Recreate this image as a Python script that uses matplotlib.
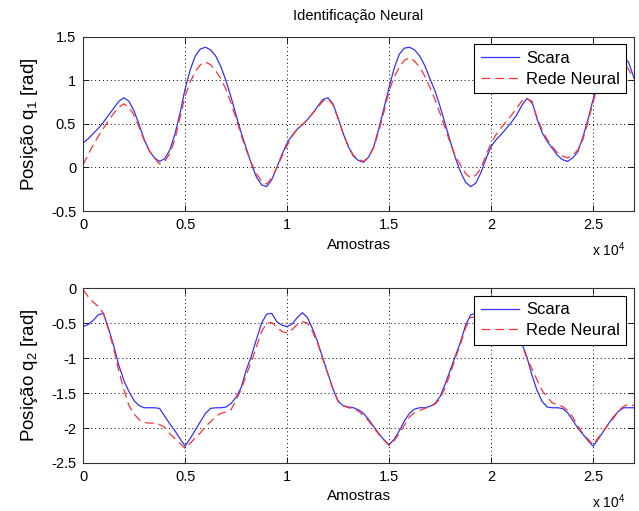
import numpy as np
import matplotlib
matplotlib.use('Agg')
import matplotlib.pyplot as plt
from matplotlib.ticker import FuncFormatter

plt.rcParams['font.family'] = ['Liberation Sans', 'DejaVu Sans']
plt.rcParams['mathtext.fontset'] = 'custom'
plt.rcParams['mathtext.rm'] = 'Liberation Sans'
plt.rcParams['mathtext.it'] = 'Liberation Sans'
plt.rcParams['axes.unicode_minus'] = False

# amostras a cada 250
amostras = np.arange(0, 27001, 250)

# junta 1
scara_q1 = [0.28, 0.33, 0.39, 0.45, 0.52, 0.60, 0.68, 0.76, 0.80, 0.76,
            0.65, 0.49, 0.32, 0.19, 0.11, 0.07, 0.10, 0.20, 0.38, 0.62,
            0.90, 1.12, 1.28, 1.36, 1.38, 1.35, 1.28, 1.16, 1.00, 0.81,
            0.60, 0.40, 0.22, 0.04, -0.11, -0.20, -0.22, -0.14, 0.00, 0.15,
            0.28, 0.37, 0.44, 0.49, 0.55, 0.62, 0.70, 0.78, 0.80, 0.73,
            0.57, 0.39, 0.24, 0.13, 0.08, 0.06, 0.12, 0.24, 0.45, 0.68,
            0.92, 1.14, 1.30, 1.37, 1.38, 1.35, 1.28, 1.17, 1.02, 0.88,
            0.70, 0.50, 0.30, 0.11, -0.05, -0.17, -0.22, -0.18, -0.06, 0.10,
            0.24, 0.32, 0.38, 0.45, 0.52, 0.60, 0.71, 0.79, 0.76, 0.56,
            0.40, 0.30, 0.22, 0.14, 0.09, 0.07, 0.11, 0.18, 0.35, 0.55,
            0.78, 1.00, 1.18, 1.30, 1.36, 1.33, 1.28, 1.20, 1.03]
rede_q1 = [0.03, 0.15, 0.26, 0.36, 0.45, 0.54, 0.62, 0.69, 0.73, 0.69,
           0.60, 0.46, 0.31, 0.19, 0.11, 0.04, 0.07, 0.16, 0.32, 0.57,
           0.82, 0.98, 1.10, 1.18, 1.21, 1.18, 1.11, 1.02, 0.90, 0.74,
           0.56, 0.37, 0.20, 0.05, -0.07, -0.16, -0.19, -0.12, 0.00, 0.13,
           0.25, 0.36, 0.44, 0.49, 0.55, 0.62, 0.69, 0.76, 0.79, 0.72,
           0.56, 0.39, 0.25, 0.14, 0.09, 0.07, 0.12, 0.23, 0.42, 0.64,
           0.88, 1.04, 1.15, 1.23, 1.26, 1.22, 1.15, 1.05, 0.92, 0.78,
           0.62, 0.45, 0.28, 0.13, 0.03, -0.07, -0.12, -0.09, -0.01, 0.14,
           0.28, 0.38, 0.46, 0.53, 0.60, 0.68, 0.76, 0.80, 0.74, 0.58,
           0.43, 0.32, 0.24, 0.17, 0.13, 0.11, 0.14, 0.20, 0.32, 0.52,
           0.75, 0.95, 1.10, 1.22, 1.28, 1.26, 1.20, 1.12, 1.02]

# junta 2
scara_q2 = [-0.55, -0.52, -0.46, -0.38, -0.36, -0.58, -0.82, -1.10, -1.32, -1.48,
            -1.61, -1.68, -1.71, -1.71, -1.71, -1.72, -1.83, -1.94, -2.04, -2.15,
            -2.26, -2.15, -2.03, -1.91, -1.79, -1.72, -1.71, -1.71, -1.70, -1.65,
            -1.56, -1.42, -1.17, -0.97, -0.73, -0.50, -0.37, -0.36, -0.48, -0.53,
            -0.55, -0.51, -0.42, -0.35, -0.42, -0.58, -0.77, -1.00, -1.22, -1.44,
            -1.62, -1.68, -1.70, -1.71, -1.74, -1.79, -1.88, -1.98, -2.08, -2.17,
            -2.24, -2.16, -2.04, -1.90, -1.79, -1.73, -1.71, -1.71, -1.69, -1.65,
            -1.55, -1.37, -1.17, -0.97, -0.77, -0.53, -0.38, -0.36, -0.48, -0.54,
            -0.55, -0.51, -0.43, -0.36, -0.42, -0.58, -0.78, -0.98, -1.24, -1.46,
            -1.62, -1.70, -1.71, -1.71, -1.72, -1.78, -1.89, -2.00, -2.09, -2.18,
            -2.26, -2.16, -2.05, -1.94, -1.84, -1.76, -1.71, -1.71, -1.71]
rede_q2 = [-0.02, -0.12, -0.20, -0.26, -0.36, -0.60, -0.86, -1.18, -1.45, -1.68,
           -1.80, -1.88, -1.92, -1.93, -1.93, -1.95, -1.99, -2.08, -2.15, -2.22,
           -2.29, -2.22, -2.14, -2.07, -1.98, -1.91, -1.84, -1.79, -1.77, -1.74,
           -1.60, -1.45, -1.24, -1.05, -0.84, -0.62, -0.50, -0.49, -0.56, -0.62,
           -0.64, -0.59, -0.52, -0.48, -0.50, -0.62, -0.79, -1.01, -1.23, -1.45,
           -1.61, -1.68, -1.71, -1.72, -1.76, -1.82, -1.90, -2.00, -2.09, -2.17,
           -2.25, -2.18, -2.08, -1.96, -1.84, -1.78, -1.75, -1.72, -1.69, -1.66,
           -1.58, -1.42, -1.22, -1.00, -0.80, -0.57, -0.42, -0.41, -0.50, -0.58,
           -0.62, -0.57, -0.50, -0.46, -0.50, -0.63, -0.80, -1.00, -1.15, -1.31,
           -1.46, -1.56, -1.64, -1.67, -1.69, -1.75, -1.84, -1.97, -2.08, -2.16,
           -2.24, -2.14, -2.05, -1.95, -1.86, -1.75, -1.69, -1.66, -1.68]

xticks = [0, 5000, 10000, 15000, 20000, 25000]

fig = plt.figure(figsize=(6.39, 5.11), dpi=100)
ax1 = fig.add_axes([0.130, 0.587, 0.862, 0.341])
ax2 = fig.add_axes([0.130, 0.094, 0.862, 0.342])

def estilo(ax, ylim, yticks, ylabel):
    ax.set_xlim(0, 27000)
    ax.set_ylim(*ylim)
    ax.set_xticks(xticks)
    ax.set_yticks(yticks)
    ax.xaxis.set_major_formatter(FuncFormatter(lambda v, p: '%g' % (v / 1e4)))
    ax.yaxis.set_major_formatter(FuncFormatter(lambda v, p: '%g' % v))
    ax.tick_params(direction='in', top=True, right=True, labelsize=10.5,
                   length=4, width=0.6, pad=5)
    ax.grid(True, color='k', linestyle=(0, (1, 3)), linewidth=0.7)
    for s in ax.spines.values():
        s.set_linewidth(0.8)
        s.set_color('#333333')
    ax.set_xlabel('Amostras', fontsize=11, labelpad=4)
    ax.set_ylabel(ylabel, fontsize=13.5, labelpad=8)
    ax.text(0.985, -0.17, r'x 10$^{4}$', transform=ax.transAxes,
            ha='right', va='top', fontsize=10)
    leg = ax.legend(loc='upper right', fontsize=12, handlelength=2.3,
                    handletextpad=0.4, borderpad=0.4, labelspacing=0.35,
                    fancybox=False, edgecolor='k', framealpha=1,
                    borderaxespad=0.45)
    leg.get_frame().set_linewidth(0.8)

ax1.plot(amostras, scara_q1, color='#3333ff', linewidth=0.9, label='Scara')
ax1.plot(amostras, rede_q1, color='#ff3333', linewidth=0.9,
         linestyle=(0, (7, 4)), label='Rede Neural')
estilo(ax1, (-0.5, 1.5), [-0.5, 0, 0.5, 1, 1.5], r'Posição q$_1$ [rad]')
ax1.set_title('Identificação Neural', fontsize=10.5, pad=12)

ax2.plot(amostras, scara_q2, color='#3333ff', linewidth=0.9, label='Scara')
ax2.plot(amostras, rede_q2, color='#ff3333', linewidth=0.9,
         linestyle=(0, (7, 4)), label='Rede Neural')
estilo(ax2, (-2.5, 0), [-2.5, -2, -1.5, -1, -0.5, 0], r'Posição q$_2$ [rad]')

fig.savefig('out.png', dpi=100)
